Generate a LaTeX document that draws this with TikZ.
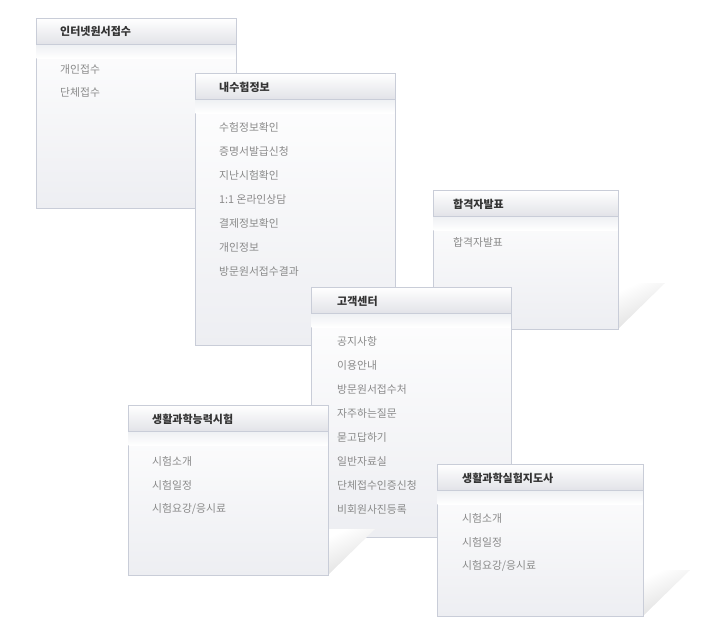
\documentclass[tikz,border=0pt]{standalone}
\usepackage{fontspec}
\newfontfamily\kr{Noto Sans CJK KR}
\definecolor{rim}{HTML}{C9CDD8}
\definecolor{headgray}{HTML}{E2E3E8}
\definecolor{bodygray}{HTML}{EDEEF2}
\definecolor{bandgray}{HTML}{EEF0F3}
\definecolor{itemgray}{HTML}{8A8A8A}
\definecolor{titlegray}{HTML}{333333}
\begin{document}
\begin{tikzpicture}[x=1pt,y=-1pt,
  panel/.style={draw=rim,rectangle,anchor=north west,inner sep=0pt,top color=white,middle color=white,bottom color=bodygray},
  head/.style={draw=rim,rectangle,anchor=north west,inner sep=0pt,minimum height=26pt,top color=white,bottom color=headgray},
  band/.style={rectangle,anchor=north west,inner sep=0pt,minimum height=14pt,top color=bandgray,bottom color=white},
  shadow/.style={top color=white,bottom color=black!14,shading angle=25},
  title/.style={anchor=west,inner sep=0pt,text=titlegray,font=\kr\bfseries\fontsize{11}{12}\selectfont},
  item/.style={anchor=west,inner sep=0pt,text=itemgray,font=\kr\fontsize{10.8}{12}\selectfont}]
\useasboundingbox (0,0) rectangle (710,641);

% 인터넷원서접수
\shade[shadow] (236,208) -- (283,162) -- (236,162) -- cycle;
\node[panel,minimum width=200pt,minimum height=190pt] (inetbox)  at (36,18)  {};
\node[band,minimum width=199pt]                       (inetband) at (36.5,44) {};
\node[head,minimum width=200pt]                       (inethead) at (36,18)  {};
\node[title] (inettitle) at (60,31.5) {인터넷원서접수};
\node[item]  (inet1)     at (60,69)   {개인접수};
\node[item]  (inet2)     at (60,92)   {단체접수};

% 내수험정보
\shade[shadow] (395,345) -- (442,299) -- (395,299) -- cycle;
\node[panel,minimum width=200pt,minimum height=272pt] (exambox)  at (195,73)  {};
\node[band,minimum width=199pt]                       (examband) at (195.5,99) {};
\node[head,minimum width=200pt]                       (examhead) at (195,73)  {};
\node[title] (examtitle) at (219,87)  {내수험정보};
\node[item]  (exam1)     at (219,127) {수험정보확인};
\node[item]  (exam2)     at (219,151) {증명서발급신청};
\node[item]  (exam3)     at (219,175) {지난시험확인};
\node[item]  (exam4)     at (219,199) {1:1 온라인상담};
\node[item]  (exam5)     at (219,223) {결제정보확인};
\node[item]  (exam6)     at (219,247) {개인정보};
\node[item]  (exam7)     at (219,271) {방문원서접수결과};

% 합격자발표
\shade[shadow] (618,329) -- (665,283) -- (618,283) -- cycle;
\node[panel,minimum width=185pt,minimum height=139pt] (passbox)  at (433,190)  {};
\node[band,minimum width=184pt]                       (passband) at (433.5,216) {};
\node[head,minimum width=185pt]                       (passhead) at (433,190)  {};
\node[title] (passtitle) at (453,204) {합격자발표};
\node[item]  (pass1)     at (453,242) {합격자발표};

% 고객센터
\shade[shadow] (511,537) -- (558,491) -- (511,491) -- cycle;
\node[panel,minimum width=200pt,minimum height=250pt] (helpbox)  at (311,287)  {};
\node[band,minimum width=199pt]                       (helpband) at (311.5,313) {};
\node[head,minimum width=200pt]                       (helphead) at (311,287)  {};
\node[title] (helptitle) at (337,301) {고객센터};
\node[item]  (help1)     at (337,341) {공지사항};
\node[item]  (help2)     at (337,365) {이용안내};
\node[item]  (help3)     at (337,389) {방문원서접수처};
\node[item]  (help4)     at (337,413) {자주하는질문};
\node[item]  (help5)     at (337,437) {묻고답하기};
\node[item]  (help6)     at (337,461) {일반자료실};
\node[item]  (help7)     at (337,485) {단체접수인증신청};
\node[item]  (help8)     at (337,509) {비회원사진등록};

% 생활과학능력시험
\shade[shadow] (328,575) -- (375,529) -- (328,529) -- cycle;
\node[panel,minimum width=200pt,minimum height=170pt] (skillbox)  at (128,405)  {};
\node[band,minimum width=199pt]                       (skillband) at (128.5,431) {};
\node[head,minimum width=200pt]                       (skillhead) at (128,405)  {};
\node[title] (skilltitle) at (152,419) {생활과학능력시험};
\node[item]  (skill1)     at (152,461) {시험소개};
\node[item]  (skill2)     at (152,485) {시험일정};
\node[item]  (skill3)     at (152,509) {시험요강/응시료};

% 생활과학실험지도사
\shade[shadow] (643,616) -- (690,570) -- (643,570) -- cycle;
\node[panel,minimum width=206pt,minimum height=152pt] (guidebox)  at (437,464)  {};
\node[band,minimum width=205pt]                       (guideband) at (437.5,490) {};
\node[head,minimum width=206pt]                       (guidehead) at (437,464)  {};
\node[title] (guidetitle) at (462,478) {생활과학실험지도사};
\node[item]  (guide1)     at (462,518) {시험소개};
\node[item]  (guide2)     at (462,542) {시험일정};
\node[item]  (guide3)     at (462,566) {시험요강/응시료};
\end{tikzpicture}
\end{document}
